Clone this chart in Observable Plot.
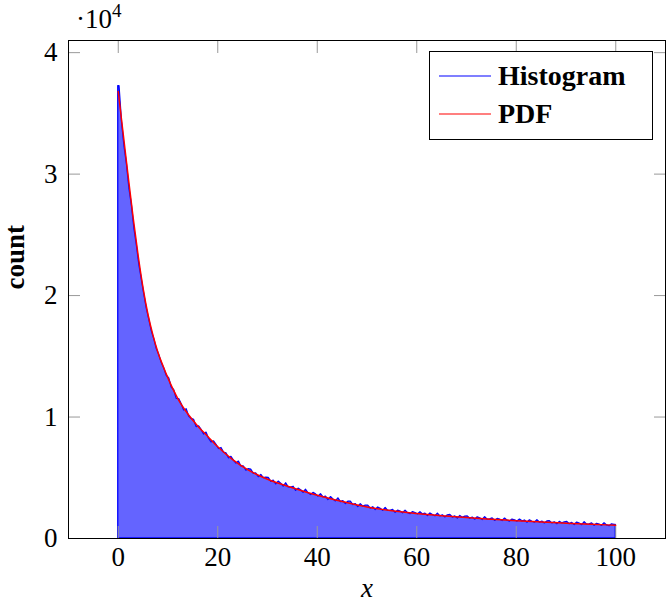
<!DOCTYPE html>
<html><head><meta charset="utf-8">
<script src="https://cdn.jsdelivr.net/npm/d3@7"></script>
<script src="https://cdn.jsdelivr.net/npm/@observablehq/plot@0.6"></script>
<style>body{margin:0;background:#fff} svg{display:block}</style>
</head><body><div id="chart"></div>
<script>
// Histogram: bins of width 0.5 starting at 0 (counts)
const histBinStart = 0;
const histBinWidth = 0.5;
const histCounts = [
  37250, 34300, 32300, 30800, 28800, 27400, 25500, 24100, 22500, 21300,
  20050, 18900, 18000, 17050, 16400, 15600, 15100, 14450, 14000, 13400,
  13170, 12430, 12210, 11490, 11480, 11055, 10540, 10640, 10045, 9845,
  9760, 9175, 9235, 8940, 8565, 8715, 8220, 7910, 7990, 7710,
  7370, 7450, 7070, 7010, 6600, 6720, 6410, 6170, 6330, 5930,
  5930, 5590, 5710, 5660, 5320, 5350, 5050, 5230, 4970, 5000,
  4995, 4665, 4765, 4455, 4685, 4515, 4275, 4545, 4215, 4185,
  4260, 3920, 4105, 3975, 3770, 4010, 3720, 3575, 3755, 3630,
  3445, 3645, 3390, 3450, 3170, 3410, 3210, 3055, 3305, 2995,
  3080, 2835, 3030, 3035, 2750, 2835, 2590, 2825, 2620, 2705,
  2705, 2465, 2570, 2345, 2550, 2440, 2275, 2510, 2275, 2270,
  2360, 2115, 2290, 2215, 2075, 2295, 2090, 2005, 2175, 2100,
  1980, 2160, 1985, 2050, 1850, 2065, 1925, 1830, 2050, 1825,
  1910, 1735, 1910, 1935, 1725, 1815, 1640, 1850, 1705, 1795,
  1820, 1625, 1725, 1550, 1745, 1660, 1525, 1755, 1555, 1570,
  1655, 1450, 1610, 1550, 1440, 1640, 1470, 1395, 1555, 1500,
  1395, 1560, 1410, 1480, 1305, 1495, 1380, 1300, 1500, 1310,
  1390, 1240, 1400, 1425, 1245, 1330, 1180, 1365, 1245, 1325,
  1365, 1180, 1285, 1110, 1310, 1230, 1105, 1335, 1140, 1160,
  1245, 1045, 1210, 1150, 1045, 1250, 1080, 1010, 1170, 1125
];
// PDF curve
const pdfX = [0, 1, 2, 3, 4, 5, 6, 7, 8, 9, 10, 12, 14, 16, 18, 20, 23, 26, 30, 35, 40, 45, 50, 55, 60, 65, 70, 75, 80, 85, 90, 95, 100];
const pdfY = [36800, 33300, 29800, 26400, 23300, 20600, 18400, 16700, 15300, 14200, 13200, 11500, 10250, 9250, 8400, 7550, 6500, 5670, 4880, 4180, 3560, 3050, 2600, 2280, 2060, 1880, 1720, 1585, 1465, 1360, 1265, 1175, 1090];
// Axes
const xTicks = [0, 20, 40, 60, 80, 100];
const yTicks = [0, 10000, 20000, 30000, 40000];
const yTickLabels = ["0", "1", "2", "3", "4"];
const xDomain = [-10, 110];
const yDomain = [0, 41000];
const xLabel = "x";
const yLabel = "count";
const yScaleBase = "·10";
const yScaleExp = "4";
const legendLabels = ["Histogram", "PDF"];
const legendColors = ["#0000ff", "#ff0000"];

const histEnd = histBinStart + histBinWidth * histCounts.length;
const histPts = [{x: histBinStart, y: histCounts[0]}]
  .concat(histCounts.map((c, i) => ({x: histBinStart + (i + 0.5) * histBinWidth, y: c})))
  .concat([{x: histEnd, y: histCounts[histCounts.length - 1]}]);
const pdfPts = pdfX.map((x, i) => ({x, y: pdfY[i]}));

const FONT = "'Liberation Serif', 'DejaVu Serif', serif";
const tickColor = "#999";

const chart = Plot.plot({
  width: 666, height: 603,
  marginLeft: 68, marginRight: 1, marginTop: 40, marginBottom: 65,
  x: {domain: xDomain},
  y: {domain: yDomain},
  style: {fontFamily: FONT, fontSize: "27px", background: "white", color: "black"},
  marks: [
    Plot.areaY(histPts, {x: "x", y: "y", fill: "#6464ff", stroke: legendColors[0], strokeWidth: 1.3}),
    Plot.line(pdfPts, {x: "x", y: "y", stroke: legendColors[1], strokeWidth: 1.5, curve: "monotone-x"}),
    Plot.axisX(xTicks, {anchor: "bottom", tickSize: -12, tickPadding: 20, stroke: tickColor, fill: "black", label: null, fontSize: 27}),
    Plot.axisX(xTicks, {anchor: "top", tickSize: -12, tickFormat: () => "", stroke: tickColor, label: null}),
    Plot.axisY(yTicks, {anchor: "left", tickSize: -12, tickPadding: 23, stroke: tickColor, fill: "black", label: null, fontSize: 27,
      tickFormat: d => yTickLabels[yTicks.indexOf(d)]}),
    Plot.axisY(yTicks, {anchor: "right", tickSize: -12, tickFormat: () => "", stroke: tickColor, label: null}),
    Plot.frame({stroke: "black", strokeWidth: 1}),
    Plot.text([xLabel], {frameAnchor: "bottom", dy: 58, text: d => d, fontStyle: "italic", fontSize: 27}),
    Plot.text([yLabel], {frameAnchor: "left", dx: -53, rotate: -90, text: d => d, fontWeight: "bold", fontSize: 27})
  ]
});
document.getElementById("chart").appendChild(chart);

const svg = d3.select(chart);
// multiplier
const t = svg.append("text").attr("x", 76).attr("y", 28).attr("text-anchor", "start")
  .attr("font-family", FONT).attr("font-size", 27).attr("fill", "black");
t.append("tspan").text(yScaleBase);
t.append("tspan").attr("dy", -11).attr("font-size", 19).text(yScaleExp);
// legend
const lg = svg.append("g").attr("font-family", FONT).attr("font-size", 28).attr("font-weight", "bold").attr("text-anchor", "start");
lg.append("rect").attr("x", 429.5).attr("y", 51.5).attr("width", 223).attr("height", 88).attr("fill", "white").attr("stroke", "black").attr("stroke-width", 1);
legendLabels.forEach((lab, i) => {
  const yy = 76 + i * 38;
  lg.append("line").attr("x1", 439).attr("x2", 491).attr("y1", yy).attr("y2", yy).attr("stroke", legendColors[i]).attr("stroke-width", 1.2);
  lg.append("text").attr("x", 498).attr("y", yy + 9).attr("fill", "black").text(lab);
});
</script></body></html>
